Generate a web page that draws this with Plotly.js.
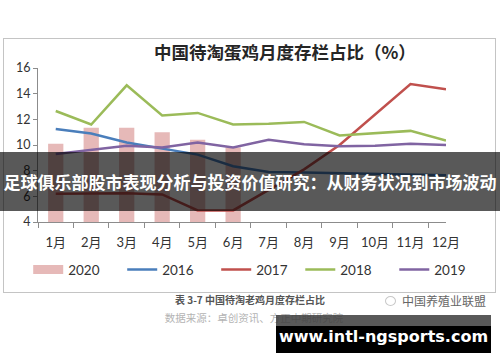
<!DOCTYPE html>
<html>
<head>
<meta charset="utf-8">
<script src="https://cdn.plot.ly/plotly-3.0.1.min.js"></script>
<style>
  html,body{margin:0;padding:0;background:#fff;}
  #wrap{position:relative;width:500px;height:362px;overflow:hidden;}
  #chart{position:absolute;left:0;top:0;width:500px;height:362px;}
  .ov{position:absolute;pointer-events:none;}
</style>
</head>
<body>
<div id="wrap">
  <div id="chart"></div>
  <div class="ov" style="left:3px;top:38px;width:491px;height:253px;border:1.5px solid #c4c4c4;"></div>
  <div class="ov" style="left:0;top:152px;width:500px;height:59px;background:rgba(0,0,0,0.65);"></div>
  <div class="ov" style="left:0;top:152px;width:500px;height:59px;line-height:59px;text-align:center;color:#fff;font-family:'Noto Sans CJK SC';font-weight:bold;font-size:17px;white-space:nowrap;">足球俱乐部股市表现分析与投资价值研究：从财务状况到市场波动</div>
  <div class="ov" style="left:160px;top:292px;width:180px;text-align:center;color:#555;font-family:'Noto Sans CJK SC';font-weight:bold;font-size:10px;line-height:16px;white-space:nowrap;">表 3-7 中国待淘老鸡月度存栏占比</div>
  <div class="ov" style="left:155px;top:310px;width:198px;text-align:center;color:#b4b4b4;font-family:'Noto Sans CJK SC';font-size:10.5px;line-height:16px;white-space:nowrap;">数据来源：卓创资讯、方正中期研究院</div>
  <div class="ov" style="left:385px;top:296px;width:9px;height:8px;border:1px solid #c8c8c8;border-radius:50%;"></div>
  <div class="ov" style="left:402px;top:292px;width:90px;color:#666;font-family:'Noto Sans CJK SC';font-size:12px;line-height:18px;white-space:nowrap;">中国养殖业联盟</div>
  <div class="ov" style="left:276px;top:315px;width:215px;height:11px;background:rgba(60,60,60,0.85);"></div>
  <div class="ov" style="left:276px;top:326px;width:215px;height:27px;background:#000;"></div>
  <div class="ov" style="left:276px;top:318px;width:215px;height:38px;line-height:38px;text-align:center;color:#fff;font-family:'DejaVu Sans';font-weight:bold;font-size:16px;white-space:nowrap;">www.intl-ngsports.com</div>
</div>
<script>
const months = ['1月','2月','3月','4月','5月','6月','7月','8月','9月','10月','11月','12月'];
const s2020 = [10.1, 11.35, 11.35, 11.0, 10.4, 9.8];
const s2016 = [11.25, 10.9, 10.2, 9.75, 9.25, 8.35, 7.9, 7.85, 7.8, 7.75, 7.7, 7.65];
const s2017 = [6.2, 6.25, 6.25, 6.15, 4.9, 4.9, 6.5, 8.1, 10.0, 12.35, 14.75, 14.35];
const s2018 = [12.65, 11.6, 14.65, 12.3, 12.5, 11.6, 11.65, 11.8, 10.75, 10.95, 11.1, 10.35];
const s2019 = [9.3, 9.6, 9.95, 9.8, 10.2, 9.8, 10.4, 10.05, 9.9, 9.95, 10.1, 10.0];
const yTicks = [4, 6, 8, 10, 12, 14, 16];

const cBar = '#E6B9B8', cBlue = '#4A7EBB', cRed = '#C0504D', cGreen = '#9BBB59', cPurple = '#8064A2';
const lw = 2.5;

const traces = [
  {type:'bar', x: months.slice(0, s2020.length), y: s2020, name:'2020', marker:{color:cBar}, showlegend:false, hoverinfo:'skip'},
  {type:'scatter', mode:'lines', x:[months[0]], y:[null], name:'2020', line:{color:cBar, width:9}, showlegend:true, hoverinfo:'skip', legend:'legend'},
  {type:'scatter', mode:'lines', x: months, y: s2016, name:'2016', line:{color:cBlue, width:lw}, legend:'legend'},
  {type:'scatter', mode:'lines', x: months, y: s2017, name:'2017', line:{color:cRed, width:lw}, legend:'legend'},
  {type:'scatter', mode:'lines', x: months, y: s2018, name:'2018', line:{color:cGreen, width:lw}, legend:'legend2'},
  {type:'scatter', mode:'lines', x: months, y: s2019, name:'2019', line:{color:cPurple, width:lw}, legend:'legend2'}
];

const legendCommon = {orientation: 'h', xanchor: 'left', y: -0.31, yanchor: 'middle',
  entrywidth: 49, entrywidthmode: 'pixels', traceorder: 'normal',
  font: {family: 'Lato', size: 13.5, color: '#333'}, bgcolor: 'rgba(0,0,0,0)'};

const layout = {
  width: 500, height: 362,
  margin: {l: 38, r: 42, t: 68, b: 140, pad: 0},
  paper_bgcolor: '#fff', plot_bgcolor: '#fff',
  bargap: 0.57,
  title: {text: '中国待淘蛋鸡月度存栏占比（%）', x: 0.605, xref: 'paper', xanchor: 'center', y: 1 - 53/362, yref: 'container', yanchor: 'middle',
          font: {family: 'Noto Sans CJK SC', size: 17.5, weight: 'bold', color: '#262626'}},
  xaxis: {type: 'category', categoryorder: 'array', categoryarray: months,
          showline: true, linecolor: '#8c8c8c', linewidth: 1, showgrid: false, zeroline: false,
          ticks: 'outside', tickson: 'boundaries', ticklen: 5, tickcolor: '#8c8c8c',
          tickangle: 0, ticklabelstandoff: 8,
          tickfont: {family: 'Lato, Noto Sans CJK SC', size: 13, color: '#333'}},
  yaxis: {range: [4, 16], tickvals: yTicks, ticktext: yTicks.map(String),
          showline: true, linecolor: '#8c8c8c', linewidth: 1, showgrid: false, zeroline: false,
          ticks: 'outside', ticklen: 4, tickcolor: '#8c8c8c',
          tickfont: {family: 'Lato', size: 12.5, color: '#333'}},
  legend: Object.assign({}, legendCommon, {x: -0.024}),
  legend2: Object.assign({}, legendCommon, {x: (308 - 38) / 420}),
  showlegend: true
};

Plotly.newPlot('chart', traces, layout, {displayModeBar: false, staticPlot: true});
</script>
</body>
</html>
